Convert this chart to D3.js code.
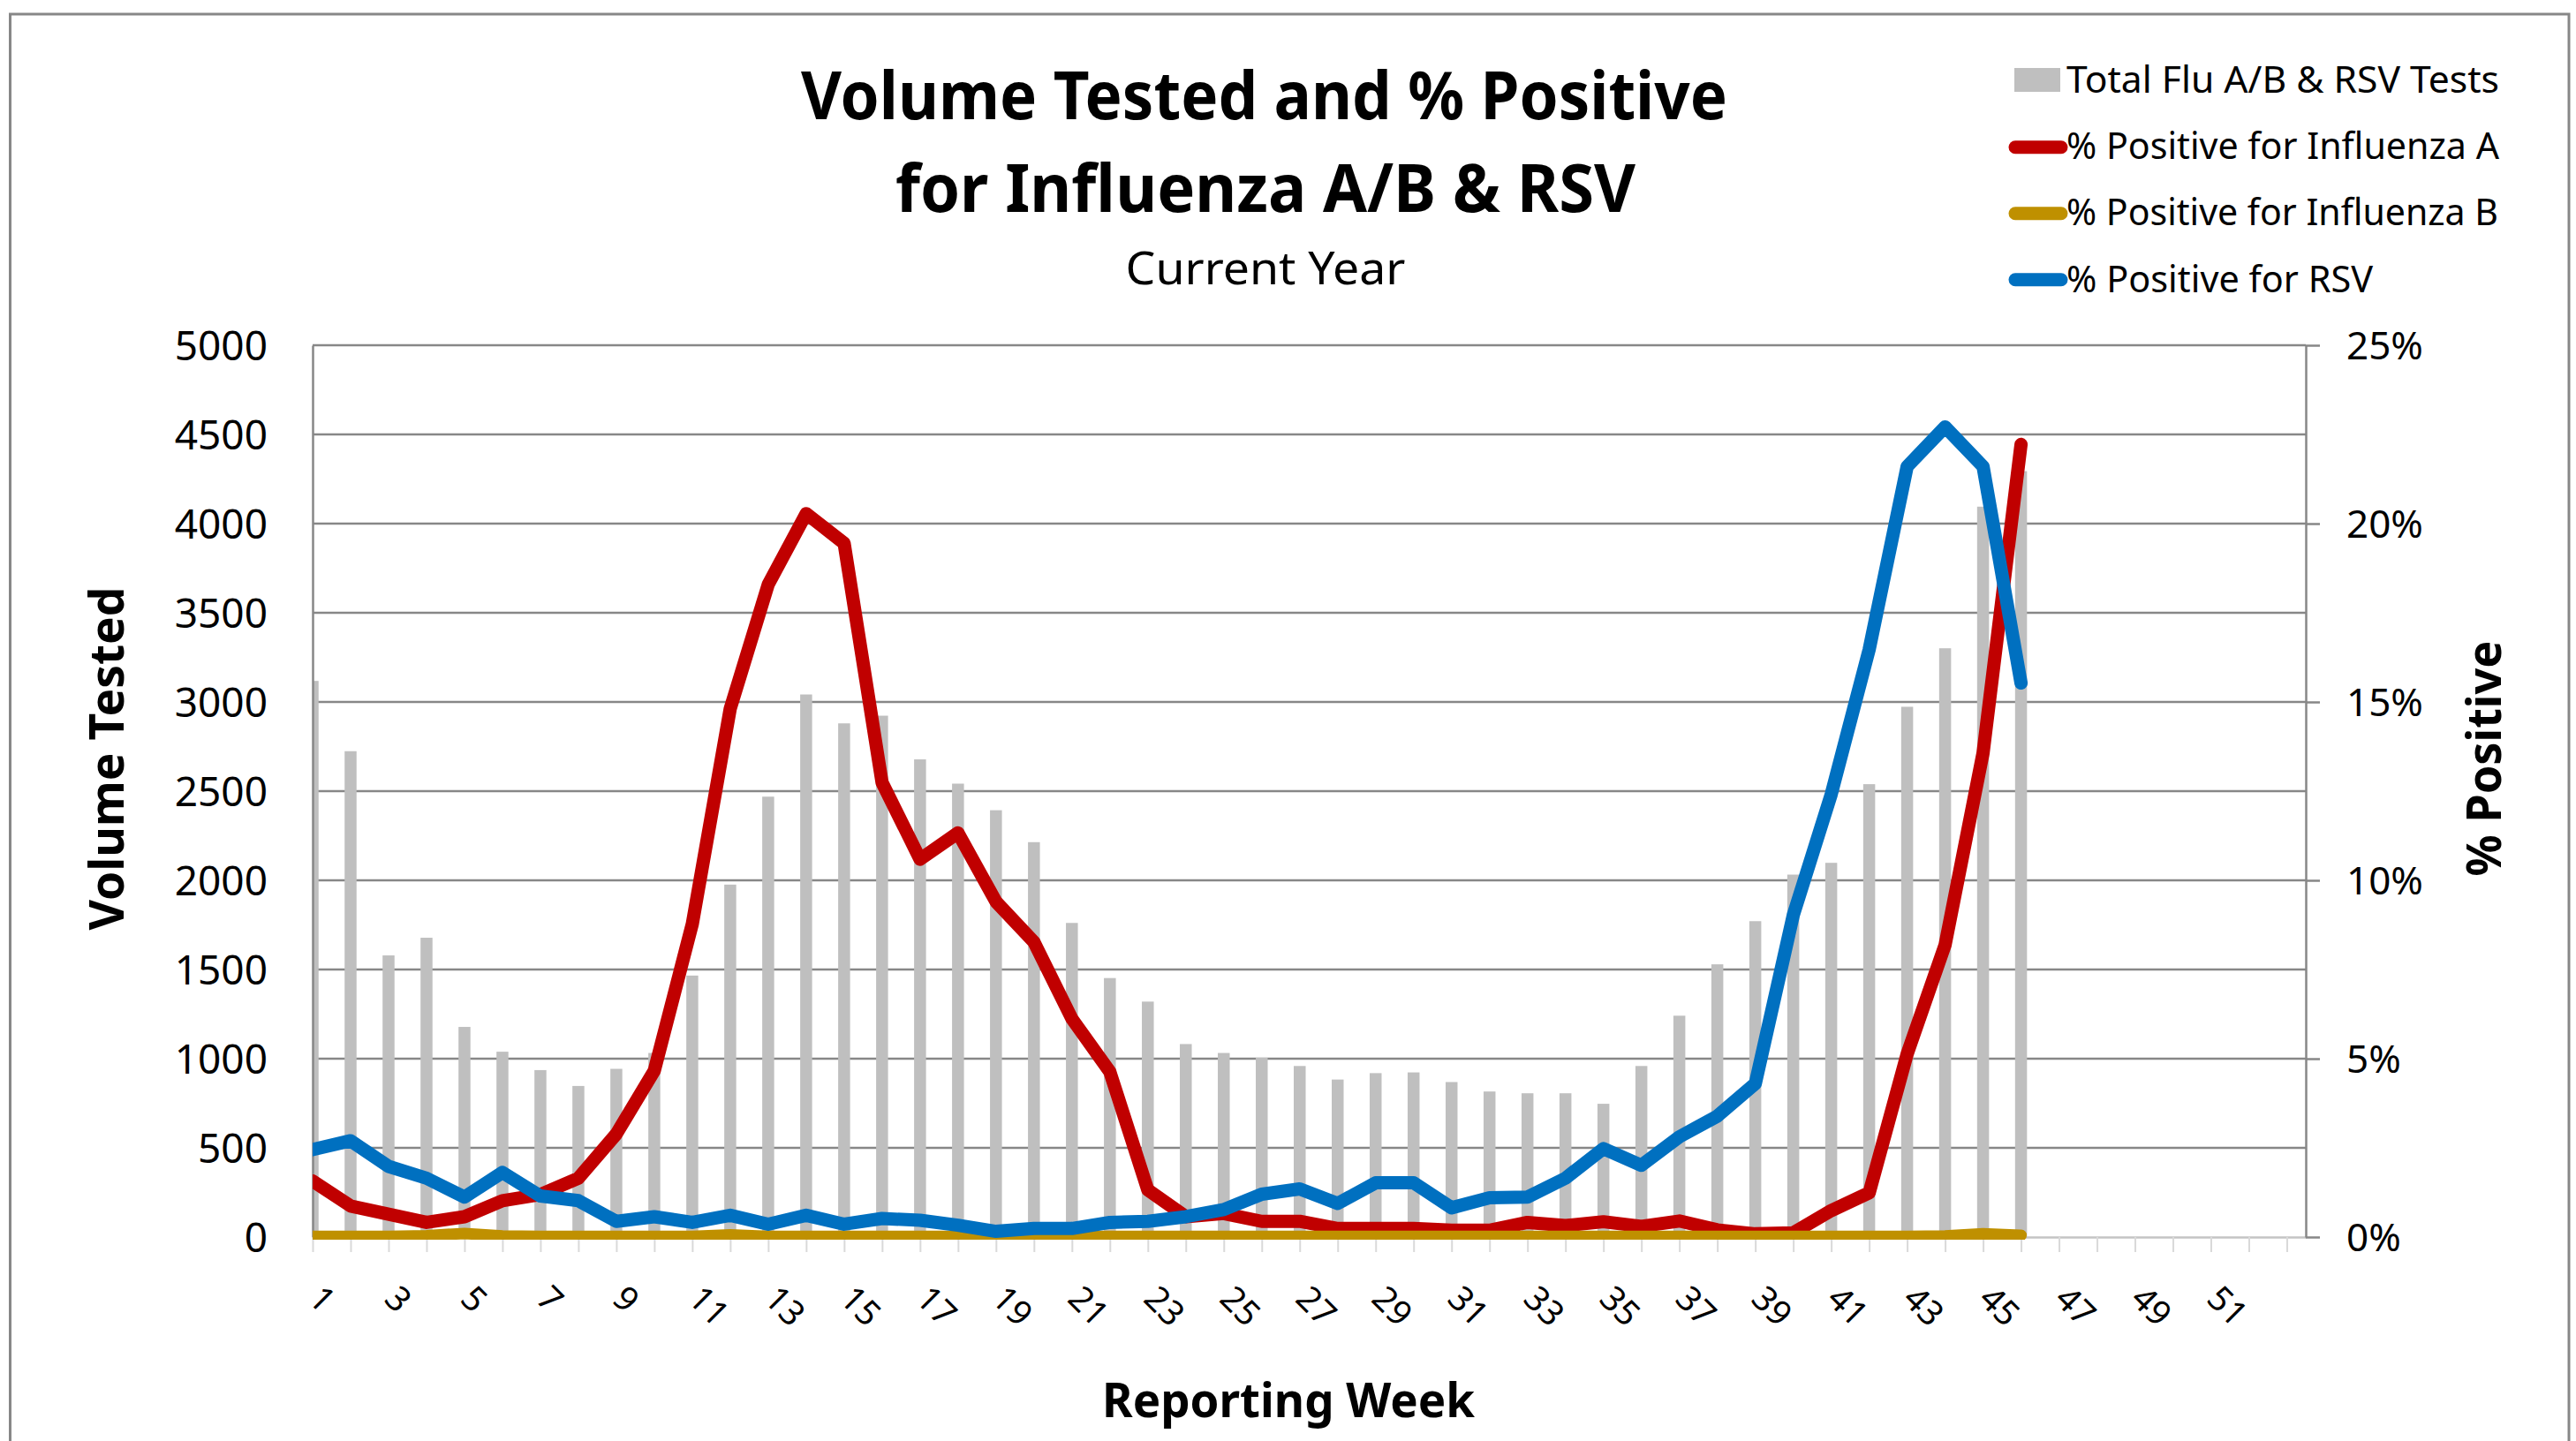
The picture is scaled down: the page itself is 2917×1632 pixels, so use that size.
<!DOCTYPE html>
<html>
<head>
<meta charset="utf-8">
<script src="https://cdn.jsdelivr.net/npm/d3@7/dist/d3.min.js"></script>
<style>
html,body{margin:0;padding:0;background:#ffffff;}
svg{display:block;}
</style>
</head>
<body>
<svg id="chart" width="2917" height="1632"></svg>
<script>
// ---------------- data ----------------
const weeks = [1,2,3,4,5,6,7,8,9,10,11,12,13,14,15,16,17,18,19,20,21,22,23,24,25,26,27,28,29,30,31,32,33,34,35,36,37,38,39,40,41,42,43,44,45,46];
const axisWeeks = [1,2,3,4,5,6,7,8,9,10,11,12,13,14,15,16,17,18,19,20,21,22,23,24,25,26,27,28,29,30,31,32,33,34,35,36,37,38,39,40,41,42,43,44,45,46,47,48,49,50,51,52,53];
const tickLabels = ["1","3","5","7","9","11","13","15","17","19","21","23","25","27","29","31","33","35","37","39","41","43","45","47","49","51"];
const totalTests = [3118,2724,1579,1678,1178,1039,936,847,943,1032,1466,1976,2469,3042,2880,2923,2678,2542,2393,2214,1761,1452,1320,1082,1032,1005,959,883,919,923,869,816,806,806,747,959,1241,1529,1771,2032,2098,2539,2973,3301,4095,4294];
const fluA = [1.57,0.87,0.64,0.41,0.57,1.02,1.19,1.65,2.89,4.66,8.77,14.81,18.29,20.28,19.45,12.74,10.59,11.33,9.4,8.27,6.12,4.63,1.32,0.57,0.66,0.44,0.44,0.24,0.24,0.24,0.19,0.19,0.41,0.32,0.43,0.30,0.45,0.20,0.09,0.12,0.74,1.24,5.13,8.19,13.57,22.22];
const fluB = [0.02,0.02,0.02,0.04,0.10,0.03,0.02,0.02,0.02,0.02,0.02,0.06,0.02,0.02,0.02,0.02,0.02,0.02,0.02,0.02,0.02,0.02,0.02,0.02,0.02,0.02,0.02,0.02,0.02,0.02,0.02,0.02,0.02,0.02,0.02,0.02,0.02,0.02,0.02,0.02,0.02,0.02,0.02,0.03,0.09,0.05];
const rsv = [2.45,2.70,1.98,1.65,1.12,1.81,1.15,1.02,0.44,0.57,0.41,0.61,0.36,0.61,0.36,0.52,0.47,0.33,0.16,0.24,0.24,0.41,0.44,0.57,0.77,1.20,1.35,0.94,1.52,1.52,0.82,1.10,1.12,1.65,2.48,2.01,2.81,3.39,4.30,9.02,12.41,16.47,21.60,22.71,21.60,15.53];
const leftTicks = [0,500,1000,1500,2000,2500,3000,3500,4000,4500,5000];
const rightTicks = [0,5,10,15,20,25];
const titleLines = ["Volume Tested and % Positive","for Influenza A/B & RSV"];
const subtitle = "Current Year";
const legendItems = ["Total Flu A/B & RSV Tests","% Positive for Influenza A","% Positive for Influenza B","% Positive for RSV"];

// ---------------- layout ----------------
const FONT = "'Noto Sans','Open Sans',sans-serif";
const L = 354, R = 2611, T = 391, B = 1401;
const GRID = "#878787";
const svg = d3.select("#chart");

const x = d3.scaleLinear().domain([1, 53.5]).range([L, R]);
const yL = d3.scaleLinear().domain([0, 5000]).range([B, T]);
const yR = d3.scaleLinear().domain([0, 25]).range([B, T]);

function fit(sel, w){ sel.attr("textLength", w).attr("lengthAdjust","spacingAndGlyphs"); return sel; }

// outer border
svg.append("rect").attr("x",11.5).attr("y",16).attr("width",2897.5).attr("height",1700)
  .attr("fill","none").attr("stroke","#878787").attr("stroke-width",3);

// clip
svg.append("defs").append("clipPath").attr("id","plotclip")
  .append("rect").attr("x",L).attr("y",T-60).attr("width",R-L).attr("height",B-T+63);

// gridlines
svg.append("g").selectAll("line").data(leftTicks.filter(d=>d>0)).join("line")
  .attr("x1",L).attr("x2",R).attr("y1",d=>yL(d)).attr("y2",d=>yL(d))
  .attr("stroke",GRID).attr("stroke-width",2.5);

// bars
svg.append("g").attr("clip-path","url(#plotclip)").selectAll("rect").data(weeks).join("rect")
  .attr("x",(d)=>x(d)-6.75).attr("width",13.5)
  .attr("y",(d,i)=>yL(totalTests[i])).attr("height",(d,i)=>B-yL(totalTests[i]))
  .attr("fill","#bfbfbf");

// left axis
const gL = svg.append("g").attr("transform",`translate(${L},0)`)
  .call(d3.axisLeft(yL).tickValues(leftTicks).tickSize(0).tickSizeOuter(0).tickPadding(51).tickFormat(d3.format("d")));
gL.select(".domain").attr("stroke",GRID).attr("stroke-width",2.5);
gL.selectAll("text").attr("font-family",FONT).attr("font-size",46).attr("fill","#000").attr("dy","0.36em");

// bottom axis
const gB = svg.append("g").attr("transform",`translate(0,${B})`)
  .call(d3.axisBottom(x).tickValues(axisWeeks).tickSize(17).tickSizeOuter(0)
    .tickFormat(d => tickLabels.includes(String(d)) ? String(d) : ""));
gB.select(".domain").attr("stroke","#c4c4c4").attr("stroke-width",2.5);
gB.selectAll(".tick line").attr("stroke","#d9d9d9").attr("stroke-width",2);
gB.selectAll("text").attr("font-family",FONT).attr("font-size",39).attr("fill","#000")
  .attr("text-anchor","start").attr("x",0).attr("y",0).attr("dy",0)
  .attr("transform","translate(-7,72) rotate(45)");

// right axis
const gR = svg.append("g").attr("transform",`translate(${R},0)`)
  .call(d3.axisRight(yR).tickValues(rightTicks).tickSize(16).tickSizeOuter(0).tickPadding(30).tickFormat(d=>d+"%"));
gR.select(".domain").attr("stroke",GRID).attr("stroke-width",2.5);
gR.selectAll(".tick line").attr("stroke",GRID).attr("stroke-width",2.5);
gR.selectAll("text").attr("font-family",FONT).attr("font-size",44).attr("fill","#000").attr("dy","0.36em");

// lines
const series = [
  {vals: fluA, color: "#c00000", w: 15},
  {vals: fluB, color: "#bf9000", w: 13},
  {vals: rsv,  color: "#0070c0", w: 15}
];
const lineGen = d3.line().x(d=>x(d.w)).y(d=>yR(d.v));
const gLines = svg.append("g").attr("clip-path","url(#plotclip)");
series.forEach(s=>{
  gLines.append("path")
    .attr("d", lineGen(weeks.map((w,i)=>({w:w, v:s.vals[i]}))))
    .attr("fill","none").attr("stroke",s.color).attr("stroke-width",s.w)
    .attr("stroke-linejoin","round").attr("stroke-linecap","round");
});

// titles
fit(svg.append("text").attr("x",1431.5).attr("y",135).attr("text-anchor","middle")
  .attr("font-family",FONT).attr("font-weight","bold").attr("font-size",76).text(titleLines[0]),1049);
fit(svg.append("text").attr("x",1433).attr("y",240).attr("text-anchor","middle")
  .attr("font-family",FONT).attr("font-weight","bold").attr("font-size",76).text(titleLines[1]),838);
fit(svg.append("text").attr("x",1433).attr("y",322).attr("text-anchor","middle")
  .attr("font-family",FONT).attr("font-size",51).text(subtitle),317);

// axis titles
fit(svg.append("text").attr("transform","translate(140,859) rotate(-90)").attr("text-anchor","middle")
  .attr("font-family",FONT).attr("font-weight","bold").attr("font-size",54).text("Volume Tested"),389);
fit(svg.append("text").attr("transform","translate(2832,859) rotate(-90)").attr("text-anchor","middle")
  .attr("font-family",FONT).attr("font-weight","bold").attr("font-size",54).text("% Positive"),267);
fit(svg.append("text").attr("x",1459).attr("y",1605).attr("text-anchor","middle")
  .attr("font-family",FONT).attr("font-weight","bold").attr("font-size",54).text("Reporting Week"),422);

// legend
const lg = svg.append("g");
lg.append("rect").attr("x",2281).attr("y",77).attr("width",52).attr("height",27).attr("fill","#bfbfbf");
const legendLineY = [166.7, 241.7, 316.7];
series.forEach((s,i)=>{
  lg.append("line").attr("x1",2282).attr("x2",2334).attr("y1",legendLineY[i]).attr("y2",legendLineY[i])
    .attr("stroke",s.color).attr("stroke-width",15).attr("stroke-linecap","round");
});
const legendBase = [105,180,255,331];
const legendW = [490,490,489,347];
legendItems.forEach((t,i)=>{
  fit(lg.append("text").attr("x",2340).attr("y",legendBase[i]).attr("font-family",FONT)
    .attr("font-size",42).attr("fill","#000").text(t), legendW[i]);
});
</script>
</body>
</html>
